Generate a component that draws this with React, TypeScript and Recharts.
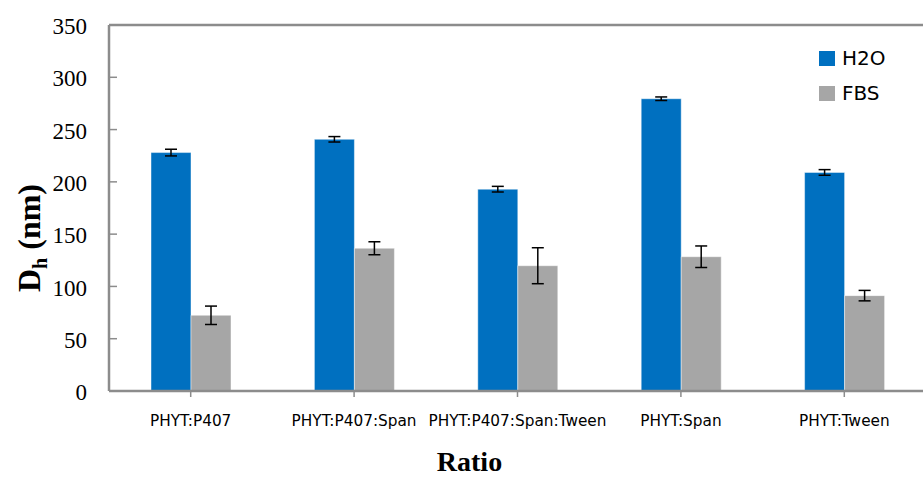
import React from "react";
import {
  BarChart,
  Bar,
  XAxis,
  YAxis,
  ErrorBar,
  ReferenceLine,
} from "recharts";

// Formulation ratios along the x axis
const categories = [
  "PHYT:P407",
  "PHYT:P407:Span",
  "PHYT:P407:Span:Tween",
  "PHYT:Span",
  "PHYT:Tween",
];

// Hydrodynamic diameter (nm) in water and the standard deviation
const h2oValues = [228, 240.7, 193, 279.5, 209];
const h2oErrors = [3.2, 2.6, 2.7, 1.7, 2.7];

// Hydrodynamic diameter (nm) in FBS and the standard deviation
const fbsValues = [72.4, 136.5, 119.8, 128.4, 91.2];
const fbsErrors = [8.8, 6.2, 17.2, 10.3, 5];

const yTicks = [0, 50, 100, 150, 200, 250, 300, 350];

const series = [
  { key: "h2o", errKey: "h2oErr", name: "H2O", color: "#0070C0" },
  { key: "fbs", errKey: "fbsErr", name: "FBS", color: "#A6A6A6" },
];

const data = categories.map((ratio, i) => ({
  ratio,
  h2o: h2oValues[i],
  h2oErr: h2oErrors[i],
  fbs: fbsValues[i],
  fbsErr: fbsErrors[i],
}));

const AXIS_GREY = "#8c8c8c";
const SERIF = "'Liberation Serif', 'Times New Roman', serif";
const SANS = "'DejaVu Sans', Verdana, sans-serif";

const Y_TICK_MARGIN = 22;
const Y_TICK_LEN = 8;

// Value labels on the left with short inward tick marks
const YTick = (props: any) => {
  const { x, y, payload } = props;
  const axisX = x + Y_TICK_MARGIN;
  return (
    <g>
      <line x1={axisX} x2={axisX + Y_TICK_LEN} y1={y} y2={y} stroke={AXIS_GREY} strokeWidth={1.5} />
      <text
        x={x}
        y={y}
        dy="0.4em"
        textAnchor="end"
        fontFamily={SERIF}
        fontSize={23}
        fill="#000"
      >
        {payload.value}
      </text>
    </g>
  );
};

const XTick = (props: any) => {
  const { x, y, payload } = props;
  return (
    <text
      x={x}
      y={y}
      dy="0.71em"
      textAnchor="middle"
      fontFamily={SANS}
      fontSize={15.3}
      fill="#000"
    >
      {payload.value}
    </text>
  );
};

const YTitle = (props: any) => {
  const { viewBox } = props;
  const cx = viewBox.x + 40;
  const cy = viewBox.y + viewBox.height / 2 + 30;
  return (
    <text
      x={cx}
      y={cy}
      transform={`rotate(-90, ${cx}, ${cy})`}
      textAnchor="middle"
      fontFamily={SERIF}
      fontWeight="bold"
      fontSize={32}
      fill="#000"
    >
      D
      <tspan fontSize={20} dy={7}>
        h
      </tspan>
      <tspan dy={-7}> (nm)</tspan>
    </text>
  );
};

const XTitle = (props: any) => {
  const { viewBox } = props;
  const cx = viewBox.x + viewBox.width / 2 - 48;
  const cy = viewBox.y + 80;
  return (
    <text
      x={cx}
      y={cy}
      textAnchor="middle"
      fontFamily={SERIF}
      fontWeight="bold"
      fontSize={28}
      fill="#000"
    >
      Ratio
    </text>
  );
};

export default function App() {
  return (
    <div
      style={{
        position: "absolute",
        left: 0,
        top: 0,
        width: 923,
        height: 477,
        overflow: "hidden",
        background: "#fff",
      }}
    >
      <BarChart
        width={940}
        height={477}
        data={data}
        margin={{ top: 25, right: 14, bottom: 0, left: 0 }}
        barGap={0}
        barSize={40}
      >
        <XAxis
          dataKey="ratio"
          height={86}
          stroke={AXIS_GREY}
          axisLine={{ stroke: AXIS_GREY, strokeWidth: 2.5 }}
          tickLine={{ stroke: AXIS_GREY, strokeWidth: 1.5 }}
          tickSize={6}
          tickMargin={18}
          tick={<XTick />}
          interval={0}
          label={{ content: <XTitle /> }}
        />
        <YAxis
          width={109}
          domain={[0, 350]}
          ticks={yTicks}
          interval={0}
          axisLine={{ stroke: AXIS_GREY, strokeWidth: 2.5 }}
          tickLine={false}
          tickSize={0}
          tickMargin={Y_TICK_MARGIN}
          tick={<YTick />}
          label={{ content: <YTitle /> }}
        />
        <ReferenceLine y={350} stroke={AXIS_GREY} strokeWidth={2.5} ifOverflow="visible" />
        {series.map((s) => (
          <Bar
            key={s.key}
            dataKey={s.key}
            name={s.name}
            fill={s.color}
            stroke="rgba(255,255,255,0.45)"
            strokeWidth={1}
            isAnimationActive={false}
          >
            <ErrorBar
              dataKey={s.errKey}
              width={6}
              stroke="#000"
              strokeWidth={1.5}
              isAnimationActive={false}
            />
          </Bar>
        ))}
      </BarChart>
      <div
        style={{
          position: "absolute",
          left: 819,
          top: 41,
          fontFamily: SANS,
          fontSize: 20,
          color: "#000",
          lineHeight: "35px",
        }}
      >
        {series.map((s) => (
          <div key={s.key} style={{ display: "flex", alignItems: "center", height: 35 }}>
            <span
              style={{
                display: "inline-block",
                width: 16,
                height: 15,
                background: s.color,
                marginRight: 7,
              }}
            />
            <span>{s.name}</span>
          </div>
        ))}
      </div>
    </div>
  );
}
